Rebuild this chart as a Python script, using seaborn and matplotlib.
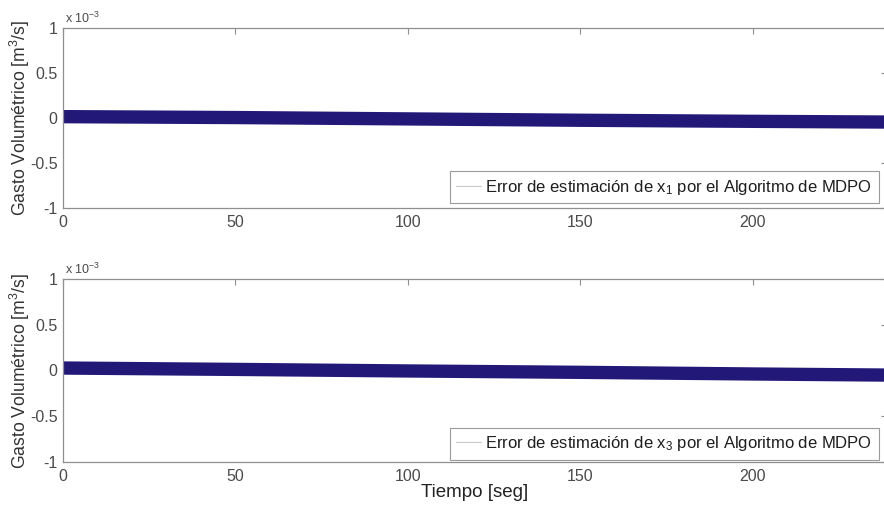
import numpy as np
import pandas as pd
import seaborn as sns
import matplotlib.pyplot as plt
from matplotlib.lines import Line2D

# ---- data ----
tiempo = [0, 50, 100, 150, 200, 239]
error_x1 = [0.015e-3, 0.005e-3, -0.010e-3, -0.025e-3, -0.037e-3, -0.045e-3]
error_x3 = [0.027e-3, 0.012e-3, -0.005e-3, -0.020e-3, -0.038e-3, -0.050e-3]
x_ticks = [0, 50, 100, 150, 200]
y_ticks = [-1e-3, -0.5e-3, 0, 0.5e-3, 1e-3]
y_tick_labels = ['-1', '-0.5', '0', '0.5', '1']
legend_labels = [r'Error de estimación de x$_1$ por el Algoritmo de MDPO',
                 r'Error de estimación de x$_3$ por el Algoritmo de MDPO']
y_label = r'Gasto Volumétrico [m$^3$/s]'
x_label = 'Tiempo [seg]'
offset_label = r'x 10$^{-3}$'

sns.set_theme(style='white')
plt.rcParams['font.family'] = ['Liberation Sans', 'DejaVu Sans']
plt.rcParams['mathtext.fontset'] = 'custom'
plt.rcParams['mathtext.rm'] = 'Liberation Sans'
plt.rcParams['mathtext.it'] = 'Liberation Sans'

fig = plt.figure(figsize=(8.84, 5.08), dpi=100)
W, H = 884, 508
left_px, right_px = 63, 887
axes_px = [(28, 208), (279, 462)]

band_color = '#221878'
spine_color = '#8f8f8f'
tick_color = '#4a4a4a'

series = [error_x1, error_x3]
for i, (top, bot) in enumerate(axes_px):
    ax = fig.add_axes([left_px / W, 1 - bot / H, (right_px - left_px) / W, (bot - top) / H])
    df = pd.DataFrame({'t': tiempo, 'e': series[i]})
    sns.lineplot(data=df, x='t', y='e', ax=ax, color=band_color, linewidth=9.6,
                 legend=False, solid_capstyle='butt', estimator=None)
    ax.set_xlim(0, 239)
    ax.set_ylim(-1e-3, 1e-3)
    ax.set_xticks(x_ticks)
    ax.set_xticklabels([str(v) for v in x_ticks])
    ax.set_yticks(y_ticks)
    ax.set_yticklabels(y_tick_labels)
    ax.tick_params(direction='in', top=True, right=True, length=4, width=0.8,
                   color=spine_color, labelsize=11.5, labelcolor=tick_color)
    ax.tick_params(axis='x', pad=5)
    ax.tick_params(axis='y', pad=4)
    for s in ax.spines.values():
        s.set_color(spine_color)
        s.set_linewidth(0.9)
    ax.set_xlabel('')
    ax.set_ylabel(y_label, fontsize=12.7, color='#333333')
    ax.yaxis.set_label_coords(-0.038, 0.5)
    ax.text(0.003, 1.01, offset_label, transform=ax.transAxes, fontsize=9,
            color=tick_color, ha='left', va='bottom')
    handle = Line2D([0], [0], color='#c8c8c8', linewidth=0.8)
    leg = ax.legend([handle], [legend_labels[i]], loc='lower right',
                    bbox_to_anchor=(0.994, 0.01 if i == 0 else -0.005),
                    fontsize=12.0, frameon=True, fancybox=False, framealpha=1,
                    edgecolor='#9a9a9a', handlelength=1.5, handletextpad=0.25,
                    borderpad=0.38, borderaxespad=0.2)
    leg.get_frame().set_linewidth(0.8)
    for t in leg.get_texts():
        t.set_color('#1e1e1e')
    if i == 1:
        ax.set_xlabel(x_label, fontsize=13.5, color='#222222', labelpad=0)

fig.savefig('out.png', dpi=100)
